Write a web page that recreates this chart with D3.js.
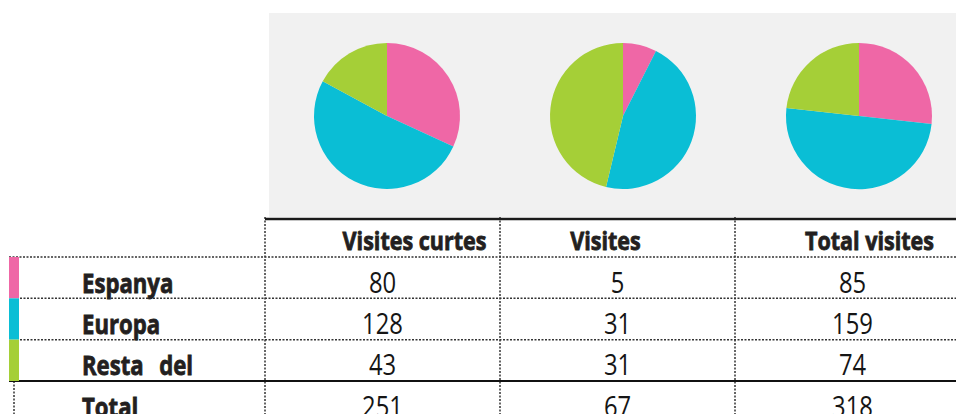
<!DOCTYPE html>
<html>
<head>
<meta charset="utf-8">
<script src="https://cdn.jsdelivr.net/npm/d3@7"></script>
<style>
  body { margin: 0; background: #fff; }
  svg { display: block; }
  .lbl { font-family: "Open Sans", sans-serif; font-weight: bold; fill: #231f20; stroke: #231f20; stroke-width: 0.8; }
  .num { font-family: "Open Sans", sans-serif; fill: #151515; }
</style>
</head>
<body>
<div id="chart"></div>
<script>
// table / pie data
const regions = ["Espanya", "Europa", "Resta del"];
const columns = ["Visites curtes", "Visites", "Total visites"];
const visitesCurtes = [80, 128, 43];
const visites = [5, 31, 31];
const totalVisites = [85, 159, 74];
const totalRow = [251, 67, 318];
const regionColors = ["#ef67a6", "#0abed5", "#a5cf37"];

const series = [visitesCurtes, visites, totalVisites];

const width = 956, height = 414;

const svg = d3.select("#chart").append("svg")
    .attr("width", width)
    .attr("height", height);

// squeeze text horizontally, the original uses a condensed face
function condense(sel, f) {
    sel.each(function() {
        const w = this.getComputedTextLength();
        d3.select(this)
            .attr("textLength", w * f)
            .attr("lengthAdjust", "spacingAndGlyphs");
    });
}

// grey panel behind the pies
svg.append("rect")
    .attr("x", 269).attr("y", 13)
    .attr("width", width - 269).attr("height", 204)
    .attr("fill", "#f1f1f1");

// scales
const xCol = d3.scaleBand().domain(columns).range([265, 970]);
const xPie = d3.scalePoint().domain(columns).range([387, 859]);
const yRow = d3.scaleBand().domain(regions).range([257, 381]);
const color = d3.scaleOrdinal().domain(regions).range(regionColors);

// pies
const pie = d3.pie().sort(null);
const arc = d3.arc().innerRadius(0).outerRadius(73);

columns.forEach((c, ci) => {
    const g = svg.append("g")
        .attr("transform", `translate(${xPie(c)},116)`);
    g.selectAll("path")
        .data(pie(series[ci]))
        .enter()
        .append("path")
        .attr("d", arc)
        .attr("fill", (d, i) => color(regions[i]));
});

// grid lines
const dotted = {stroke: "#333", "stroke-width": 1.5, "stroke-dasharray": "2,1.5"};
function line(x1, y1, x2, y2, style) {
    const l = svg.append("line")
        .attr("x1", x1).attr("y1", y1).attr("x2", x2).attr("y2", y2);
    Object.entries(style).forEach(([k, v]) => l.attr(k, v));
    return l;
}

// horizontal dotted lines
line(9, yRow.range()[0], width, yRow.range()[0], dotted);
regions.slice(1).forEach(r => line(20, yRow(r), width, yRow(r), dotted));

// vertical dotted column separators
columns.forEach(c => line(xCol(c), 217, xCol(c), height, dotted));
line(14, yRow.range()[1], 14, height, dotted);

// solid lines
line(265, 219, width, 219, {stroke: "#1a1a1a", "stroke-width": 2.5});
line(9, yRow.range()[1], width, yRow.range()[1], {stroke: "#111", "stroke-width": 2});

// colour bars
svg.selectAll("rect.bar")
    .data(regions)
    .enter()
    .append("rect")
    .attr("class", "bar")
    .attr("x", 9)
    .attr("y", d => yRow(d))
    .attr("width", 10)
    .attr("height", yRow.bandwidth())
    .attr("fill", d => color(d));

// column headers
const headerDx = [32, -12, 17];
svg.selectAll("text.head")
    .data(columns)
    .enter()
    .append("text")
    .attr("class", "lbl head")
    .attr("x", (d, i) => xCol(d) + xCol.bandwidth() / 2 + headerDx[i])
    .attr("y", 250)
    .attr("text-anchor", "middle")
    .attr("font-size", 25)
    .text(d => d)
    .call(condense, 0.86);

const rowY = i => yRow.range()[0] + (i + 0.5) * yRow.bandwidth() + 15;

// row labels
svg.selectAll("text.row")
    .data(regions.concat(["Total"]))
    .enter()
    .append("text")
    .attr("class", "lbl row")
    .attr("x", 82)
    .attr("y", (d, i) => rowY(i))
    .attr("font-size", 27)
    .attr("word-spacing", 12)
    .text(d => d)
    .call(condense, 0.82);

// values
columns.forEach((c, ci) => {
    const vals = series[ci].concat([totalRow[ci]]);
    svg.selectAll("text.v" + ci)
        .data(vals)
        .enter()
        .append("text")
        .attr("class", "num v" + ci)
        .attr("x", xCol(c) + xCol.bandwidth() / 2)
        .attr("y", (d, i) => rowY(i))
        .attr("text-anchor", "middle")
        .attr("font-size", 29)
        .text(d => d)
        .call(condense, 0.82);
});
</script>
</body>
</html>
